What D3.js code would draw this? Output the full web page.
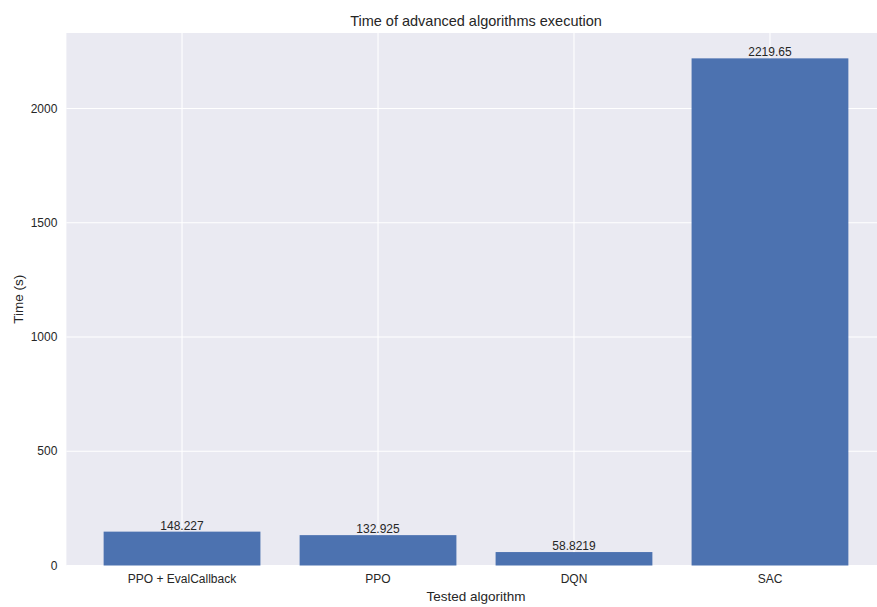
<!DOCTYPE html>
<html><head><meta charset="utf-8">
<script src="https://cdn.jsdelivr.net/npm/d3@7"></script>
<style>body{margin:0;background:#fff;} text{font-family:"Liberation Sans",Arial,sans-serif;fill:#262626;}</style>
</head><body><svg id="c" width="877" height="607"></svg>
<script>
const categories = ["PPO + EvalCallback", "PPO", "DQN", "SAC"];
const values = [148.227, 132.925, 58.8219, 2219.65];
const valueLabels = ["148.227", "132.925", "58.8219", "2219.65"];
const yTicks = [0, 500, 1000, 1500, 2000];

(function () {
const svg = d3.select("#c");
const pL = 66.4, pR = 885.6, pT = 33, pB = 565.5;
const x = d3.scaleLinear().domain([-0.59, 3.59]).range([pL, pR]);
const y = d3.scaleLinear().domain([0, d3.max(values) * 1.05]).range([pB, pT]);

svg.append("rect").attr("x", pL).attr("y", pT).attr("width", pR - pL).attr("height", pB - pT).attr("fill", "#EAEAF2");

const g = svg.append("g");
g.selectAll(".hg").data(yTicks).join("line")
  .attr("x1", pL).attr("x2", pR).attr("y1", d => y(d)).attr("y2", d => y(d))
  .attr("stroke", "#fff").attr("stroke-width", 1.1);
g.selectAll(".vg").data(categories).join("line")
  .attr("y1", pT).attr("y2", pB).attr("x1", (d, i) => x(i)).attr("x2", (d, i) => x(i))
  .attr("stroke", "#fff").attr("stroke-width", 1.1);

const bw = x(0.8) - x(0);
g.selectAll(".bar").data(values).join("rect")
  .attr("x", (d, i) => x(i) - bw / 2).attr("width", bw)
  .attr("y", d => y(d)).attr("height", d => pB - y(d))
  .attr("fill", "#4C72B0");

g.selectAll(".bl").data(values).join("text")
  .attr("x", (d, i) => x(i)).attr("y", d => y(d) - 2)
  .attr("text-anchor", "middle").attr("font-size", "12px")
  .text((d, i) => valueLabels[i]);

svg.selectAll(".yt").data(yTicks).join("text")
  .attr("x", pL - 9).attr("y", d => y(d)).attr("dy", "0.35em")
  .attr("text-anchor", "end").attr("font-size", "12px").text(d => d);

svg.selectAll(".xt").data(categories).join("text")
  .attr("x", (d, i) => x(i)).attr("y", pB + 17.5)
  .attr("text-anchor", "middle").attr("font-size", "12px").text(d => d);

svg.append("text").attr("x", (pL + pR) / 2).attr("y", 26).attr("text-anchor", "middle")
  .attr("font-size", "14.5px").text("Time of advanced algorithms execution");
svg.append("text").attr("x", (pL + pR) / 2).attr("y", 600.5).attr("text-anchor", "middle")
  .attr("font-size", "13.5px").text("Tested algorithm");
svg.append("text").attr("transform", `translate(23,${(pT + pB) / 2}) rotate(-90)`).attr("text-anchor", "middle")
  .attr("font-size", "13.5px").text("Time (s)");
})();
</script></body></html>
